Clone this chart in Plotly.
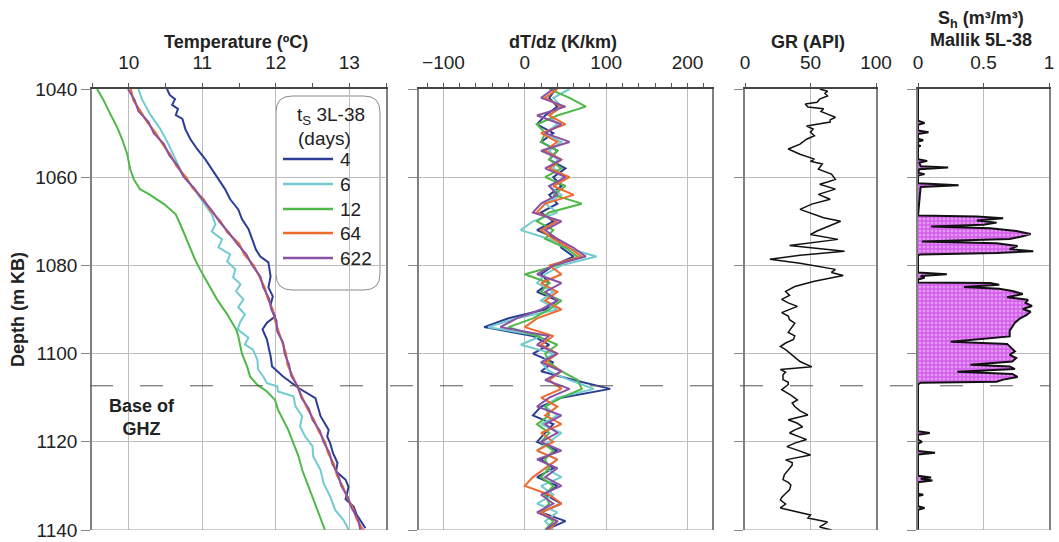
import plotly.graph_objects as go

# ---------------- data ----------------
# Temperature logs in well 3L-38 for five shut-in times (days)
shut_in_days = ["4", "6", "12", "64", "622"]
series_colors = ["#2b3d94", "#72cbd0", "#4fb848", "#ef6a2e", "#8a52a3"]

depth_t4 = [1040, 1041.4, 1042.3, 1043.6, 1044.5, 1045.9, 1046.8, 1049.1, 1051.4, 1053.6,
            1055.9, 1058.2, 1060.5, 1062.7, 1065, 1067.3, 1069.5, 1071.8, 1074.1, 1076.4,
            1078, 1079.3, 1082.5, 1085, 1087, 1089, 1091.6, 1093, 1094.5, 1096.8, 1100.6,
            1102.9, 1105.2, 1107.8, 1110.1, 1112, 1114.2, 1117.3, 1118.8, 1120.3, 1122.6,
            1124.8, 1126.7, 1128.6, 1130.2, 1131.7, 1133, 1134.7, 1136.5, 1139.6]
temp_t4 = [10.52, 10.56, 10.63, 10.59, 10.67, 10.64, 10.73, 10.77, 10.84, 10.93,
           11.04, 11.13, 11.22, 11.31, 11.38, 11.49, 11.54, 11.63, 11.68, 11.73,
           11.79, 11.90, 11.93, 11.90, 11.96, 11.93, 11.99, 11.88, 11.82, 11.88, 11.93,
           11.95, 12.10, 12.31, 12.54, 12.57, 12.61, 12.72, 12.70, 12.74, 12.78,
           12.84, 12.82, 12.95, 12.99, 12.97, 12.95, 13.06, 13.10, 13.22]

depth_t6 = [1040, 1042.3, 1045.7, 1049.1, 1052.5, 1055.9, 1059.3, 1061.6, 1063.9, 1066.1,
            1068.4, 1070.7, 1072.3, 1074.1, 1075.9, 1077.5, 1079.1, 1080.9, 1082.7, 1084.3,
            1085.9, 1087.7, 1089.5, 1091.1, 1092.7, 1094.5, 1096.4, 1097.9, 1099.1, 1101.4,
            1103.6, 1105.2, 1106.7, 1107.4, 1108.6, 1109.7, 1112, 1114.2, 1116.5, 1118.8,
            1121, 1123.3, 1126.4, 1129.4, 1132.4, 1135.5, 1137.7, 1139.2, 1140]
temp_t6 = [10.13, 10.18, 10.29, 10.43, 10.54, 10.63, 10.73, 10.84, 10.94, 11.04,
           11.13, 11.18, 11.13, 11.27, 11.22, 11.38, 11.34, 11.45, 11.42, 11.52,
           11.46, 11.56, 11.49, 11.58, 11.52, 11.48, 11.63, 11.58, 11.69, 11.75,
           11.76, 11.83, 11.88, 12.02, 12.03, 12.24, 12.27, 12.36, 12.33, 12.40,
           12.50, 12.51, 12.61, 12.65, 12.74, 12.81, 12.92, 12.97, 12.99]

depth_t12 = [1040, 1042.3, 1045.7, 1048.6, 1051.4, 1054.8, 1058.2, 1060.5, 1062.7, 1063.9,
             1066.1, 1068.4, 1071.8, 1075.2, 1078.6, 1080.9, 1084.3, 1087.7, 1091.1, 1094.5,
             1096, 1098.3, 1100, 1102.9, 1105.2, 1107.1, 1108.6, 1110.5, 1112.7, 1115,
             1117.3, 1120.3, 1123.3, 1126.4, 1129.4, 1132.4, 1136.2, 1140]
temp_t12 = [9.57, 9.65, 9.75, 9.84, 9.91, 9.98, 10.02, 10.07, 10.15, 10.28,
            10.48, 10.64, 10.73, 10.81, 10.90, 10.97, 11.08, 11.20, 11.34, 11.46,
            11.49, 11.52, 11.54, 11.61, 11.65, 11.75, 11.88, 11.99, 12.03, 12.10,
            12.17, 12.24, 12.31, 12.36, 12.43, 12.50, 12.58, 12.67]

depth_t_late = [1040, 1042.5, 1045, 1047.5, 1050, 1052.5, 1055, 1057.5, 1060, 1062.5,
                1065, 1067.5, 1070, 1072.5, 1075, 1077.5, 1080, 1082.5, 1085, 1087.5,
                1090, 1092.5, 1095, 1097.5, 1100, 1102.5, 1105, 1107.5, 1110, 1112.5,
                1115, 1117.5, 1120, 1122.5, 1125, 1127.5, 1130, 1132.5, 1135, 1137.5, 1140]
temp_t64 = [10.03, 10.06, 10.16, 10.25, 10.37, 10.46, 10.57, 10.65, 10.78, 10.87,
            11.02, 11.11, 11.25, 11.34, 11.50, 11.57, 11.70, 11.77, 11.85, 11.89,
            11.96, 11.99, 12.04, 12.08, 12.14, 12.16, 12.23, 12.29, 12.37, 12.43,
            12.52, 12.58, 12.67, 12.71, 12.79, 12.83, 12.91, 12.97, 13.05, 13.10, 13.19]
temp_t622 = [9.99, 10.08, 10.13, 10.27, 10.34, 10.48, 10.55, 10.67, 10.75, 10.89,
             11.00, 11.13, 11.23, 11.36, 11.47, 11.60, 11.68, 11.79, 11.83, 11.91,
             11.94, 12.01, 12.02, 12.10, 12.12, 12.18, 12.21, 12.30, 12.35, 12.45,
             12.50, 12.60, 12.65, 12.73, 12.77, 12.85, 12.89, 12.98, 13.03, 13.12, 13.15]

# Temperature gradient (K/km) on a 2 m depth grid
depth_grad = [1040, 1042, 1044, 1046, 1048, 1050, 1052, 1054, 1056, 1058,
              1060, 1062, 1064, 1066, 1068, 1070, 1072, 1074, 1076, 1078,
              1080, 1082, 1084, 1086, 1088, 1090, 1092, 1094, 1096, 1098,
              1100, 1102, 1104, 1106, 1108, 1110, 1112, 1114, 1116, 1118,
              1120, 1122, 1124, 1126, 1128, 1130, 1132, 1134, 1136, 1138, 1140]
grad_t4 = [38, 30, 40, 25, 15, 35, 20, 40, 30, 50, 35, 45, 30, 40, 20, 35, 15, 40, 45, 60,
           35, 20, 30, 15, 40, 25, -20, -50, 10, 30, 10, 35, 20, 60, 105, 45, 20, 10, 35, 25,
           15, 40, 20, 35, 15, 40, 25, 45, 20, 50, 25]
grad_t6 = [55, 35, 45, 30, 40, 25, 45, 30, 40, 35, 50, 30, 45, 25, 40, 10, -5, 30, 50, 88,
           45, 25, 15, 35, 20, 40, -10, -45, 20, -5, 35, 20, 30, 55, 85, 40, 25, 40, 20, 45,
           30, 15, 40, 25, 45, 20, 35, 15, 40, 25, 35]
grad_t12 = [30, 55, 75, 40, 15, 25, 20, 40, 30, 45, 25, 50, 35, 70, 30, 15, 35, 25, 50, 65,
            40, 0, 30, 20, 45, 30, 10, -20, 15, 40, 25, 30, 45, 65, 70, 45, 25, 30, 15, 30,
            20, 35, 25, 30, 20, 35, 25, 30, 20, 35, 25]
grad_t64 = [40, 25, 45, 30, 50, 20, 40, 25, 45, 30, 55, 35, 60, 25, 15, 40, 20, 35, 55, 70,
            30, 45, 20, 40, 25, 45, 15, 0, 35, 20, 40, 25, 45, 30, 45, 20, 40, 25, 45, 20,
            35, 15, 40, 25, 10, 0, 30, 45, 20, 40, 30]
grad_t622 = [35, 20, 50, 15, 45, 25, 55, 20, 45, 25, 50, 30, 40, 20, 10, 45, 25, 40, 60, 75,
             35, 15, 45, 25, 40, 20, -10, -30, 30, 15, 40, 20, 45, 25, 55, 30, 15, 45, 25, 40,
             20, 45, 15, 40, 25, 45, 20, 35, 15, 40, 25]

# Gamma ray log (API)
depth_gr = [1040, 1040.5, 1041.0, 1041.6, 1042.3, 1043, 1043.4, 1044.1, 1044.5, 1045.1,
            1045.7, 1046.4, 1047, 1047.5, 1048.4, 1049.1, 1049.8, 1050.6, 1051.4, 1052.5,
            1053.6, 1054.2, 1054.8, 1055.9, 1056.4, 1057, 1058.2, 1059.3, 1060.5, 1061.1,
            1061.6, 1062.7, 1063.3, 1063.9, 1065, 1065.6, 1066.1, 1067.3, 1068.4, 1069.2,
            1070, 1071.4, 1072.2, 1073, 1074.1, 1075.5, 1076.8, 1077.7, 1078.6, 1079.5,
            1080.3, 1080.9, 1081.6, 1082.3, 1083.6, 1084.8, 1085.9, 1086.8, 1087.7, 1088.5,
            1089.3, 1090, 1090.7, 1091.5, 1092.3, 1093.1, 1093.9, 1095.2, 1096, 1096.8,
            1097.6, 1098.4, 1099.1, 1099.8, 1100.8, 1101.8, 1103, 1103.6, 1104.2, 1104.8,
            1105.9, 1106.5, 1107, 1107.6, 1108.2, 1109.4, 1110.5, 1111.2, 1112, 1113,
            1113.9, 1115, 1115.8, 1116.6, 1117.3, 1118, 1118.8, 1119.5, 1120.3, 1121.1,
            1122, 1123, 1124.1, 1124.7, 1125.3, 1126.4, 1127.5, 1128.6, 1129.2, 1129.8,
            1130.9, 1132, 1132.6, 1133.2, 1134.1, 1135, 1135.8, 1136.6, 1137.3, 1138.2,
            1139.3, 1140]
gr_api = [57, 63, 61, 63, 57, 55, 46, 48, 60, 58,
          63, 69, 65, 65, 47, 52, 50, 53, 47, 42,
          33, 37, 42, 53, 50, 59, 56, 66, 69, 63,
          57, 69, 62, 56, 65, 58, 51, 42, 53, 60,
          73, 61, 55, 50, 71, 34, 76, 42, 19, 42,
          58, 69, 66, 75, 53, 38, 31, 34, 28, 33,
          40, 34, 28, 33, 34, 38, 36, 33, 38, 37,
          31, 27, 31, 34, 38, 42, 51, 27, 31, 29,
          29, 33, 33, 30, 28, 35, 40, 36, 38, 42,
          48, 33, 40, 44, 38, 34, 41, 47, 38, 32,
          41, 50, 31, 36, 36, 33, 30, 29, 33, 35,
          34, 30, 28, 27, 31, 27, 38, 50, 48, 63,
          57, 66]

# Gas hydrate saturation in Mallik 5L-38 (m3/m3)
depth_sh = [1040, 1047.2, 1047.7, 1048.1, 1049.4, 1049.8, 1050.2, 1051.3, 1051.6, 1051.9,
            1052.7, 1052.9, 1053.1, 1055.9, 1056.3, 1056.7, 1057.5, 1057.8, 1058.2, 1059,
            1059.3, 1059.6, 1061.4, 1061.8, 1062.2, 1068.7,
            1068.9, 1069.3, 1069.8, 1070.3, 1070.8, 1071.2, 1071.6, 1072.2, 1072.9, 1073.4,
            1074.0, 1074.6, 1075.0, 1075.6, 1076.3, 1076.8, 1077.2, 1077.5, 1077.7,
            1081.6, 1082, 1082.4, 1082.8, 1083.2, 1083.9,
            1084, 1084.4, 1084.9, 1085.3, 1085.8, 1086.5, 1087.2, 1087.8, 1088.5, 1089.2,
            1089.9, 1090.5, 1091.2, 1092, 1093, 1093.9, 1094.8, 1096.1, 1097.3, 1097.8,
            1098.6, 1099.5, 1100.3, 1101, 1101.8, 1102.5, 1102.9, 1103.5, 1104.1, 1104.6,
            1105.3, 1105.9, 1106.4, 1106.6, 1107,
            1117.6, 1118, 1118.4, 1119.5, 1120, 1120.4, 1122.1, 1122.5, 1122.9, 1127.7,
            1128.1, 1128.4, 1128.8, 1129.2, 1131.8, 1132, 1132.3, 1134.6, 1135, 1135.4, 1140]
sh_frac = [0, 0, 0.05, 0, 0, 0.08, 0, 0, 0.04, 0,
           0, 0.02, 0, 0, 0.07, 0.01, 0.02, 0.23, 0.01, 0,
           0.05, 0, 0, 0.31, 0.02, 0,
           0.45, 0.65, 0.45, 0.6, 0.5, 0.1, 0.55, 0.75, 0.86, 0.8,
           0.7, 0.03, 0.6, 0.76, 0.7, 0.88, 0.6, 0.02, 0,
           0, 0.22, 0.02, 0.05, 0, 0,
           0.55, 0.62, 0.35, 0.62, 0.72, 0.8, 0.68, 0.84, 0.82, 0.87,
           0.8, 0.86, 0.83, 0.78, 0.74, 0.72, 0.7, 0.7, 0.25, 0.68,
           0.71, 0.74, 0.7, 0.75, 0.72, 0.4, 0.7, 0.74, 0.3, 0.72,
           0.76, 0.65, 0.6, 0.02, 0,
           0, 0.09, 0, 0, 0.03, 0, 0, 0.13, 0, 0,
           0.1, 0.02, 0.11, 0, 0, 0.04, 0, 0, 0.05, 0, 0]

ghz_base_depth = 1107.3

temp_depths = [depth_t4, depth_t6, depth_t12, depth_t_late, depth_t_late]
temp_values = [temp_t4, temp_t6, temp_t12, temp_t64, temp_t622]
grad_values = [grad_t4, grad_t6, grad_t12, grad_t64, grad_t622]

# ---------------- figure ----------------
W, H = 1059, 542
FONT = "Liberation Sans, Arial, sans-serif"

def px_x(p):
    return p / W

def px_y(p):
    return 1 - p / H

fig = go.Figure()

for i, name in enumerate(shut_in_days):
    fig.add_trace(go.Scatter(
        x=temp_values[i], y=temp_depths[i], mode="lines", name=name, showlegend=False,
        line=dict(color=series_colors[i], width=2), xaxis="x", yaxis="y"))

for i, name in enumerate(shut_in_days):
    fig.add_trace(go.Scatter(
        x=grad_values[i], y=depth_grad, mode="lines", name=name, showlegend=False,
        line=dict(color=series_colors[i], width=2), xaxis="x2", yaxis="y2"))

fig.add_trace(go.Scatter(
    x=gr_api, y=depth_gr, mode="lines", name="GR", showlegend=False,
    line=dict(color="#111111", width=1.5), xaxis="x3", yaxis="y3"))

fig.add_trace(go.Scatter(
    x=sh_frac, y=depth_sh, mode="lines", name="Sh", showlegend=False, fill="tozerox",
    fillcolor="#d462ec",
    fillpattern=dict(shape=".", bgcolor="#d462ec", fgcolor="#f6d2fb", size=4, solidity=0.35),
    line=dict(color="#111111", width=2), xaxis="x4", yaxis="y4"))

y_dom = [px_y(530), px_y(89)]
x_doms = [[px_x(92), px_x(386)], [px_x(419), px_x(712)],
          [px_x(745), px_x(876)], [px_x(918), px_x(1049)]]
x_ranges = [[9.5, 13.5], [-130, 230], [0, 100], [0, 1]]
x_dticks = [1, 100, 50, 0.5]
x_minor = [0.5, 20, None, None]

tick_font = dict(family=FONT, size=19, color="#222222")
grid_col = "#bdbdbd"

layout = dict(
    width=W, height=H, margin=dict(l=0, r=0, t=0, b=0),
    paper_bgcolor="white", plot_bgcolor="white", showlegend=False,
    font=dict(family=FONT, color="#222222"),
)

for k in range(4):
    sx = "" if k == 0 else str(k + 1)
    xa = dict(domain=x_doms[k], range=x_ranges[k], side="top", anchor="y" + sx,
              dtick=x_dticks[k], tick0=0, ticks="outside", ticklen=4, tickcolor="#555555",
              showline=True, linecolor="#444444", linewidth=1.5, mirror=False,
              showgrid=True, gridcolor=grid_col, gridwidth=1, zeroline=False,
              tickfont=tick_font, ticklabelstandoff=7, automargin=False, fixedrange=True)
    if x_minor[k] is not None:
        xa["minor"] = dict(dtick=x_minor[k], ticks="outside", ticklen=4,
                           tickcolor="#555555", showgrid=False)
    ya = dict(domain=y_dom, range=[1140, 1040], anchor="x" + sx,
              tickvals=[1040, 1060, 1080, 1100, 1120, 1140],
              ticks="outside", ticklen=9, tickcolor="#888888",
              showline=True, linecolor="#808080", linewidth=1.5, mirror=True,
              showgrid=True, gridcolor=grid_col, gridwidth=1, zeroline=False,
              tickfont=tick_font, showticklabels=(k == 0), automargin=False,
              fixedrange=True)
    if k > 0:
        ya["matches"] = "y"
    layout["xaxis" + sx] = xa
    layout["yaxis" + sx] = ya

fig.update_layout(**layout)

# bottom frame edges
for k in range(4):
    sx = "" if k == 0 else str(k + 1)
    fig.add_shape(type="line", xref=f"x{sx} domain", yref=f"y{sx}",
                  x0=0, x1=1, y0=1140, y1=1140, line=dict(color="#9a9a9a", width=1.2))

# base of gas hydrate zone
fig.add_shape(type="line", xref="paper", yref="y", x0=px_x(90), x1=px_x(1049),
              y0=ghz_base_depth, y1=ghz_base_depth,
              line=dict(color="#555555", width=1, dash="23px,27px"))

# key box with rounded corners
bx0, bx1, by0, by1, r = 276, 380, 96, 290, 16
rx, ry = r / W, r / H
X0, X1, Y0, Y1 = px_x(bx0), px_x(bx1), px_y(by0), px_y(by1)
path = (f"M {X0+rx},{Y0} L {X1-rx},{Y0} Q {X1},{Y0} {X1},{Y0-ry} "
        f"L {X1},{Y1+ry} Q {X1},{Y1} {X1-rx},{Y1} L {X0+rx},{Y1} "
        f"Q {X0},{Y1} {X0},{Y1+ry} L {X0},{Y0-ry} Q {X0},{Y0} {X0+rx},{Y0} Z")
fig.add_shape(type="path", xref="paper", yref="paper", path=path,
              line=dict(color="#8a8a8a", width=1), fillcolor="white", layer="below")

key_font = dict(family=FONT, size=19, color="#222222")
fig.add_annotation(text="t<sub>S</sub> 3L-38", x=px_x(295), y=px_y(116), xref="paper",
                   yref="paper", showarrow=False, font=key_font,
                   xanchor="left", yanchor="middle")
fig.add_annotation(text="(days)", x=px_x(296), y=px_y(139), xref="paper",
                   yref="paper", showarrow=False, font=key_font,
                   xanchor="left", yanchor="middle")
key_row_y = [159, 184, 209, 233, 258]
for i, name in enumerate(shut_in_days):
    yk = px_y(key_row_y[i])
    fig.add_shape(type="line", xref="paper", yref="paper", x0=px_x(283), x1=px_x(333),
                  y0=yk, y1=yk, line=dict(color=series_colors[i], width=2.5))
    fig.add_annotation(text=name, x=px_x(338), y=yk, xref="paper", yref="paper",
                       showarrow=False, font=key_font, xanchor="left", yanchor="middle")

title_font = dict(family=FONT, size=18, color="#222222")
for text, xc, yc in [("<b>Temperature (ºC)</b>", 236, 42),
                     ("<b>dT/dz (K/km)</b>", 563, 42),
                     ("<b>GR (API)</b>", 808, 42),
                     ("<b>S<sub>h</sub> (m³/m³)</b>", 981, 20),
                     ("<b>Mallik 5L-38</b>", 981, 40)]:
    fig.add_annotation(text=text, x=px_x(xc), y=px_y(yc), xref="paper", yref="paper",
                       showarrow=False, font=title_font, xanchor="center", yanchor="middle")

fig.add_annotation(text="<b>Depth (m KB)</b>", x=px_x(18), y=px_y(310), xref="paper",
                   yref="paper", showarrow=False, textangle=-90, font=title_font,
                   xanchor="center", yanchor="middle")
fig.add_annotation(text="<b>Base of<br>GHZ</b>", x=px_x(142), y=px_y(417), xref="paper",
                   yref="paper", showarrow=False, font=title_font, align="center",
                   xanchor="center", yanchor="middle")

fig.write_html("out.html")
